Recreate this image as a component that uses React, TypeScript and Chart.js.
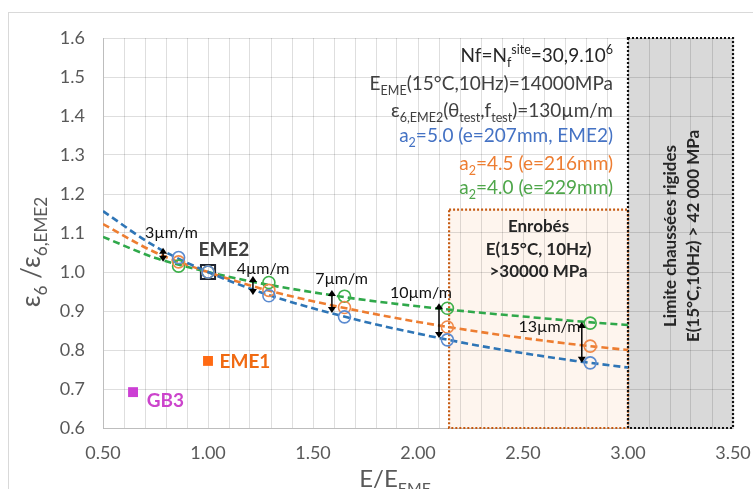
import React, { useEffect, useRef } from "react";
import { Chart, registerables } from "chart.js";
Chart.register(...registerables);

// ---- data ----
const curveX = [0.5, 0.75, 1.0, 1.25, 1.5, 1.75, 2.0, 2.25, 2.5, 2.75, 3.0];
const curveA5 = [1.156, 1.065, 1.0, 0.948, 0.907, 0.872, 0.842, 0.815, 0.792, 0.772, 0.755];
const curveA45 = [1.123, 1.05, 1.0, 0.958, 0.925, 0.897, 0.872, 0.85, 0.831, 0.814, 0.8];
const curveA4 = [1.09, 1.036, 1.0, 0.971, 0.948, 0.928, 0.912, 0.898, 0.886, 0.874, 0.864];

const pointX = [0.86, 1.0, 1.29, 1.65, 2.14, 2.82];
const pointsA5 = [1.037, 1.0, 0.939, 0.885, 0.826, 0.767];
const pointsA45 = [1.026, 1.0, 0.953, 0.909, 0.859, 0.81];
const pointsA4 = [1.015, 1.0, 0.973, 0.938, 0.907, 0.869];

const eme2Point = [{ x: 1.0, y: 1.0 }];
const eme1Point = [{ x: 1.0, y: 0.772 }];
const gb3Point = [{ x: 0.643, y: 0.692 }];

const arrowX = [0.786, 1.214, 1.59, 2.1, 2.78];
const arrowTop = [1.062, 0.99, 0.954, 0.92, 0.872];
const arrowBottom = [1.026, 0.941, 0.895, 0.831, 0.767];
const arrowLabels = ["3µm/m", "4µm/m", "7µm/m", "10µm/m", "13µm/m"];
const arrowLabelX = [0.826, 1.262, 1.636, 2.014, 2.626];
const arrowLabelY = [1.1, 1.008, 0.982, 0.946, 0.859];

const enrobesBox = { x0: 2.148, x1: 3.0, y0: 0.6, y1: 1.16 };
const rigidBox = { x0: 3.0, x1: 3.5, y0: 0.6, y1: 1.6 };

const xMin = 0.5, xMax = 3.5, yMin = 0.6, yMax = 1.6;

const FONT = "Lato, 'Open Sans', sans-serif";

type Seg = { t: string; s?: "sub" | "sup" };

function segFont(base: number, s: Seg, bold: boolean) {
  const size = s.s ? base * 0.66 : base;
  return `${bold ? "bold " : ""}${size}px ${FONT}`;
}
function measureRich(ctx: CanvasRenderingContext2D, segs: Seg[], base: number, bold = false) {
  let w = 0;
  for (const s of segs) {
    ctx.font = segFont(base, s, bold);
    w += ctx.measureText(s.t).width;
  }
  return w;
}
function drawRich(
  ctx: CanvasRenderingContext2D,
  segs: Seg[],
  x: number,
  y: number,
  align: "left" | "right" | "center",
  base: number,
  color: string,
  bold = false
) {
  const w = measureRich(ctx, segs, base, bold);
  let cx = align === "left" ? x : align === "right" ? x - w : x - w / 2;
  ctx.fillStyle = color;
  ctx.textAlign = "left";
  ctx.textBaseline = "alphabetic";
  for (const s of segs) {
    ctx.font = segFont(base, s, bold);
    const dy = s.s === "sub" ? base * 0.28 : s.s === "sup" ? -base * 0.42 : 0;
    ctx.fillText(s.t, cx, y + dy);
    cx += ctx.measureText(s.t).width;
  }
}

const infoLines: { segs: Seg[]; color: string; y: number }[] = [
  { segs: [{ t: "Nf=N" }, { t: "f", s: "sub" }, { t: "site", s: "sup" }, { t: "=30,9.10" }, { t: "6", s: "sup" }], color: "#262626", y: 62 },
  { segs: [{ t: "E" }, { t: "EME", s: "sub" }, { t: "(15°C,10Hz)=14000MPa" }], color: "#404040", y: 90 },
  { segs: [{ t: "ε" }, { t: "6,EME2", s: "sub" }, { t: "(θ" }, { t: "test", s: "sub" }, { t: ",f" }, { t: "test", s: "sub" }, { t: ")=130µm/m" }], color: "#404040", y: 117 },
  { segs: [{ t: "a" }, { t: "2", s: "sub" }, { t: "=5.0 (e=207mm, EME2)" }], color: "#4472C4", y: 142 },
  { segs: [{ t: "a" }, { t: "2", s: "sub" }, { t: "=4.5 (e=216mm)" }], color: "#ED7D31", y: 170 },
  { segs: [{ t: "a" }, { t: "2", s: "sub" }, { t: "=4.0 (e=229mm)" }], color: "#4EA64A", y: 194 },
];

const toXY = (xs: number[], ys: number[]) => xs.map((x, i) => ({ x, y: ys[i] }));

const drawPlugin = {
  id: "custom",
  beforeDraw(chart: any) {
    const ctx: CanvasRenderingContext2D = chart.ctx;
    const xs = chart.scales.x, ys = chart.scales.y;
    ctx.save();
    ctx.fillStyle = "#fff";
    ctx.fillRect(0, 0, chart.width, chart.height);
    ctx.strokeStyle = "#D9D9D9";
    ctx.lineWidth = 1;
    ctx.strokeRect(8.5, 12.5, chart.width + 20, chart.height + 20);
    const eb = enrobesBox;
    ctx.fillStyle = "#FEF5EE";
    ctx.fillRect(xs.getPixelForValue(eb.x0), ys.getPixelForValue(eb.y1),
      xs.getPixelForValue(eb.x1) - xs.getPixelForValue(eb.x0), ys.getPixelForValue(eb.y0) - ys.getPixelForValue(eb.y1));
    const rb = rigidBox;
    ctx.fillStyle = "#D9D9D9";
    ctx.fillRect(xs.getPixelForValue(rb.x0), ys.getPixelForValue(rb.y1),
      xs.getPixelForValue(rb.x1) - xs.getPixelForValue(rb.x0), ys.getPixelForValue(rb.y0) - ys.getPixelForValue(rb.y1));
    ctx.restore();
  },
  beforeDatasetsDraw(chart: any) {
    const ctx: CanvasRenderingContext2D = chart.ctx;
    const xs = chart.scales.x, ys = chart.scales.y;
    ctx.save();
    ctx.lineWidth = 2.2;
    ctx.setLineDash([2, 2]);
    const eb = enrobesBox;
    ctx.strokeStyle = "#C55A11";
    ctx.strokeRect(xs.getPixelForValue(eb.x0), ys.getPixelForValue(eb.y1),
      xs.getPixelForValue(eb.x1) - xs.getPixelForValue(eb.x0), ys.getPixelForValue(eb.y0) - ys.getPixelForValue(eb.y1));
    const rb = rigidBox;
    ctx.strokeStyle = "#111";
    ctx.strokeRect(xs.getPixelForValue(rb.x0), ys.getPixelForValue(rb.y1),
      xs.getPixelForValue(rb.x1) - xs.getPixelForValue(rb.x0), ys.getPixelForValue(rb.y0) - ys.getPixelForValue(rb.y1));
    ctx.setLineDash([]);
    ctx.restore();
  },
  afterDatasetsDraw(chart: any) {
    const ctx: CanvasRenderingContext2D = chart.ctx;
    const xs = chart.scales.x, ys = chart.scales.y;
    ctx.save();
    ctx.strokeStyle = "#000";
    ctx.fillStyle = "#000";
    ctx.lineWidth = 1.5;
    arrowX.forEach((xv, i) => {
      const px = xs.getPixelForValue(xv);
      const py0 = ys.getPixelForValue(arrowTop[i]);
      const py1 = ys.getPixelForValue(arrowBottom[i]);
      ctx.beginPath();
      ctx.moveTo(px, py0 + 4);
      ctx.lineTo(px, py1 - 4);
      ctx.stroke();
      ctx.beginPath();
      ctx.moveTo(px, py0);
      ctx.lineTo(px - 4, py0 + 6);
      ctx.lineTo(px + 4, py0 + 6);
      ctx.closePath();
      ctx.fill();
      ctx.beginPath();
      ctx.moveTo(px, py1);
      ctx.lineTo(px - 4, py1 - 6);
      ctx.lineTo(px + 4, py1 - 6);
      ctx.closePath();
      ctx.fill();
    });
    ctx.font = `16px ${FONT}`;
    ctx.fillStyle = "#111";
    ctx.textAlign = "center";
    ctx.textBaseline = "middle";
    arrowLabels.forEach((l, i) => {
      ctx.fillText(l, xs.getPixelForValue(arrowLabelX[i]), ys.getPixelForValue(arrowLabelY[i]));
    });
    ctx.font = `bold 19px ${FONT}`;
    ctx.textAlign = "left";
    ctx.fillStyle = "#404040";
    ctx.fillText("EME2", xs.getPixelForValue(0.955), ys.getPixelForValue(1.057));
    ctx.fillStyle = "#F06A12";
    ctx.fillText("EME1", xs.getPixelForValue(1.055), ys.getPixelForValue(0.77));
    ctx.fillStyle = "#CC44CC";
    ctx.fillText("GB3", xs.getPixelForValue(0.708), ys.getPixelForValue(0.67));
    ctx.font = `bold 17px ${FONT}`;
    ctx.fillStyle = "#262626";
    ctx.textAlign = "center";
    const ecx = (xs.getPixelForValue(enrobesBox.x0) + xs.getPixelForValue(enrobesBox.x1)) / 2;
    ctx.fillText("Enrobés", ecx, 227);
    ctx.fillText("E(15°C, 10Hz)", ecx, 250);
    ctx.fillText(">30000 MPa", ecx, 272);
    ctx.save();
    ctx.translate((xs.getPixelForValue(rigidBox.x0) + xs.getPixelForValue(rigidBox.x1)) / 2 + 1, 236);
    ctx.rotate(-Math.PI / 2);
    ctx.font = `bold 17px ${FONT}`;
    ctx.fillText("Limite chaussées rigides", 0, -11);
    ctx.fillText("E(15°C,10Hz) > 42 000 MPa", 0, 12);
    ctx.restore();
    infoLines.forEach((ln) => drawRich(ctx, ln.segs, 613, ln.y, "right", 19, ln.color));
    drawRich(ctx, [{ t: "E/E" }, { t: "EME", s: "sub" }], 395, 487, "center", 24, "#595959");
    ctx.save();
    ctx.translate(40, 252);
    ctx.rotate(-Math.PI / 2);
    drawRich(ctx, [{ t: "ε" }, { t: "6", s: "sub" }, { t: " /ε" }, { t: "6,EME2", s: "sub" }], 0, 0, "center", 26, "#595959");
    ctx.restore();
    ctx.restore();
  },
};

export default function App() {
  const ref = useRef<HTMLCanvasElement>(null);
  useEffect(() => {
    if (!ref.current) return;
    const curveStyle = (color: string) => ({
      type: "line" as const,
      borderColor: color,
      borderWidth: 2.6,
      borderDash: [7, 4],
      pointRadius: 0,
      fill: false,
      cubicInterpolationMode: "monotone" as const,
    });
    const circleStyle = (color: string) => ({
      type: "line" as const,
      showLine: false,
      pointRadius: 6,
      pointStyle: "circle",
      pointBackgroundColor: "rgba(0,0,0,0)",
      pointBorderColor: color,
      pointBorderWidth: 1.6,
    });
    const chart = new Chart(ref.current, {
      type: "line",
      data: {
        datasets: [
          { ...circleStyle("#5B8BD0"), data: toXY(pointX, pointsA5) },
          { ...circleStyle("#F08A4B"), data: toXY(pointX, pointsA45) },
          { ...circleStyle("#3DB04A"), data: toXY(pointX, pointsA4) },
          { ...curveStyle("#2E75B6"), data: toXY(curveX, curveA5) },
          { ...curveStyle("#ED7D31"), data: toXY(curveX, curveA45) },
          { ...curveStyle("#2FA84A"), data: toXY(curveX, curveA4) },
          {
            type: "line", showLine: false, data: eme2Point, pointStyle: "rect", pointRadius: 10,
            pointBackgroundColor: "rgba(0,0,0,0)", pointBorderColor: "#1F2430", pointBorderWidth: 2,
          },
          {
            type: "line", showLine: false, data: eme1Point, pointStyle: "rect", pointRadius: 7,
            pointBackgroundColor: "#FF6A13", pointBorderColor: "#FF6A13", pointBorderWidth: 0,
          },
          {
            type: "line", showLine: false, data: gb3Point, pointStyle: "rect", pointRadius: 7,
            pointBackgroundColor: "#CC3FD4", pointBorderColor: "#CC3FD4", pointBorderWidth: 0,
          },
        ] as any,
      },
      options: {
        responsive: false,
        animation: false,
        devicePixelRatio: 1,
        layout: { padding: { top: 38, right: 20, left: 0, bottom: 0 } },
        plugins: { legend: { display: false }, tooltip: { enabled: false } },
        scales: {
          x: {
            type: "linear",
            min: xMin,
            max: xMax,
            afterFit: (s: any) => { s.height = 61; s.paddingLeft = 0; s.paddingRight = 0; },
            ticks: {
              stepSize: 0.1,
              autoSkip: false,
              maxRotation: 0,
              padding: 14,
              color: "#595959",
              font: { family: FONT, size: 18 },
              callback: (v: any) => {
                const n = Math.round(Number(v) * 10);
                return n % 5 === 0 ? (n / 10).toFixed(2) : "";
              },
            },
            grid: { color: "rgba(0,0,0,0.13)", drawTicks: false },
            border: { color: "rgba(0,0,0,0.15)" },
          },
          y: {
            type: "linear",
            min: yMin,
            max: yMax,
            afterFit: (s: any) => { s.width = 103; s.paddingTop = 0; s.paddingBottom = 0; },
            ticks: {
              stepSize: 0.1,
              padding: 18,
              color: "#595959",
              font: { family: FONT, size: 18 },
              callback: (v: any) => Number(v).toFixed(1),
            },
            grid: { color: "rgba(0,0,0,0.13)", drawTicks: false },
            border: { color: "rgba(0,0,0,0.15)" },
          },
        },
      },
      plugins: [drawPlugin],
    });
    return () => chart.destroy();
  }, []);
  return (
    <div style={{ position: "absolute", left: 0, top: 0, width: 753, height: 489, overflow: "hidden" }}>
      <canvas ref={ref} width={753} height={489} style={{ width: 753, height: 489, display: "block" }} />
    </div>
  );
}
